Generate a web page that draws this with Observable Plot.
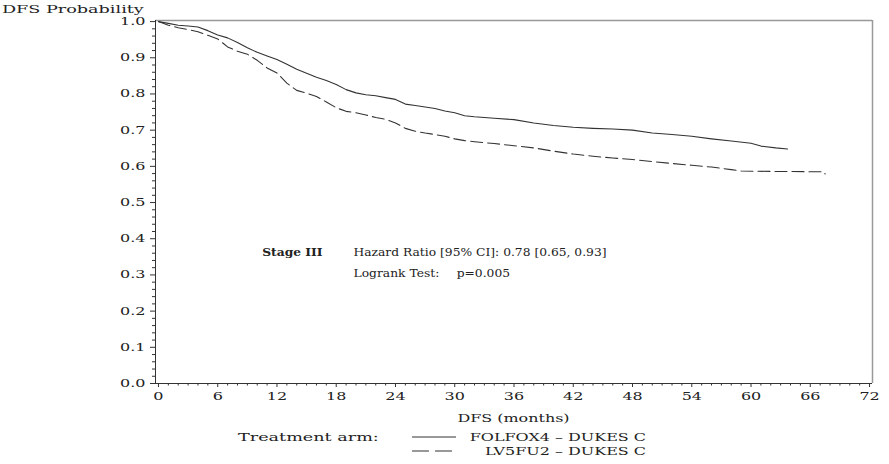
<!DOCTYPE html>
<html>
<head>
<meta charset="utf-8">
<script src="https://cdn.jsdelivr.net/npm/d3@7"></script>
<script src="https://cdn.jsdelivr.net/npm/@observablehq/plot@0.6"></script>
<style>
  html, body { margin: 0; padding: 0; background: #fff; }
  svg text { font-family: "DejaVu Serif", serif; }
</style>
</head>
<body>
<div id="chart"></div>
<script>
// ---- Data ----
const folfoxMonths = [0, 1, 2, 3, 4, 5, 6, 7, 8, 9, 10, 11, 12, 13, 14, 15, 16, 17, 18, 19, 20, 21, 22, 23, 24, 25, 26, 27, 28, 29, 30, 31, 32, 34, 36, 38, 40, 42, 44, 46, 48, 50, 52, 54, 56, 58, 60, 61, 62.5, 63.7];
const folfoxSurv   = [1.000, 0.995, 0.990, 0.988, 0.985, 0.975, 0.963, 0.955, 0.942, 0.928, 0.915, 0.905, 0.895, 0.882, 0.868, 0.857, 0.846, 0.837, 0.826, 0.812, 0.803, 0.798, 0.795, 0.790, 0.785, 0.772, 0.768, 0.764, 0.760, 0.753, 0.748, 0.740, 0.737, 0.733, 0.729, 0.720, 0.713, 0.708, 0.705, 0.703, 0.700, 0.692, 0.688, 0.683, 0.676, 0.670, 0.664, 0.656, 0.651, 0.648];

const lv5fu2Months = [0, 1, 2, 3, 4, 5, 6, 7, 8, 9, 10, 11, 12, 13, 14, 15, 16, 17, 18, 19, 20, 21, 22, 23, 24, 25, 26, 27, 28, 29, 30, 31, 32, 34, 36, 38, 40, 42, 44, 46, 48, 50, 52, 54, 56, 58, 59, 62, 67.4, 67.5];
const lv5fu2Surv   = [1.000, 0.990, 0.983, 0.978, 0.972, 0.962, 0.952, 0.930, 0.918, 0.910, 0.893, 0.872, 0.858, 0.830, 0.810, 0.802, 0.793, 0.778, 0.762, 0.752, 0.748, 0.742, 0.735, 0.730, 0.720, 0.705, 0.697, 0.692, 0.688, 0.683, 0.676, 0.671, 0.668, 0.663, 0.657, 0.651, 0.642, 0.634, 0.628, 0.623, 0.619, 0.613, 0.608, 0.603, 0.598, 0.591, 0.587, 0.586, 0.585, 0.579];

const seriesNames = ["FOLFOX4 \u2013 DUKES C", "LV5FU2 \u2013 DUKES C"];
const yTicks = [0, 0.1, 0.2, 0.3, 0.4, 0.5, 0.6, 0.7, 0.8, 0.9, 1.0];
const xTicks = [0, 6, 12, 18, 24, 30, 36, 42, 48, 54, 60, 66, 72];
const yTitle = "DFS Probability";
const xTitle = "DFS (months)";
const legendTitle = "Treatment arm:";
const boldNotes = [{m: 10.5, s: 0.362, text: "Stage III"}];
const plainNotes = [
  {m: 19.75, s: 0.362, text: "Hazard Ratio [95% CI]: 0.78 [0.65, 0.93]"},
  {m: 19.75, s: 0.304, text: "Logrank Test:"},
  {m: 30.2, s: 0.304, text: "p=0.005"}
];

// ---- Build ----
const folfox = folfoxMonths.map((m, i) => ({m, s: folfoxSurv[i]}));
const lv5fu2 = lv5fu2Months.map((m, i) => ({m, s: lv5fu2Surv[i]}));
const yMinor = d3.range(0, 50).map(i => i * 0.02).filter((v, i) => i % 5 !== 0);
const xMinor = d3.range(0, 73).filter(v => v % 6 !== 0);
const xDomain = [-0.3, 72.3];
const yDomain = [0, 1.003];
const ink = "#222";
const lineInk = "#333";
const serif = "'DejaVu Serif', serif";

const plot = Plot.plot({
  width: 889,
  height: 464,
  marginLeft: 155,
  marginRight: 17,
  marginTop: 20,
  marginBottom: 81,
  style: {fontFamily: serif, fontSize: "11px", color: ink, background: "#fff"},
  x: {domain: xDomain, label: null},
  y: {domain: yDomain, label: null},
  marks: [
    Plot.ruleY([yDomain[1]], {stroke: "#999", strokeWidth: 1.5}),
    Plot.ruleX([xDomain[1]], {stroke: "#999", strokeWidth: 1.5}),
    Plot.ruleX([xDomain[0]], {stroke: lineInk, strokeWidth: 1}),
    Plot.ruleY([0], {stroke: lineInk, strokeWidth: 1}),
    Plot.axisY(yTicks, {anchor: "left", tickSize: 5, tickPadding: 5, tickFormat: d => d.toFixed(1), stroke: lineInk, fill: ink, fontFamily: serif, label: null}),
    Plot.axisY(yMinor, {anchor: "left", tickSize: 3, tickFormat: () => "", stroke: lineInk, label: null}),
    Plot.axisX(xTicks, {anchor: "bottom", tickSize: 4, tickPadding: 5, tickFormat: d => String(d), stroke: lineInk, fill: ink, fontFamily: serif, label: null}),
    Plot.axisX(xMinor, {anchor: "bottom", tickSize: 2.5, tickFormat: () => "", stroke: lineInk, label: null}),
    Plot.line(folfox, {x: "m", y: "s", stroke: lineInk, strokeWidth: 1.1}),
    Plot.line(lv5fu2, {x: "m", y: "s", stroke: lineInk, strokeWidth: 1.1, strokeDasharray: "12,5"}),
    Plot.text(boldNotes, {x: "m", y: "s", text: "text", textAnchor: "start", lineAnchor: "middle",
      fontSize: 10.5, fontWeight: "bold", fill: ink, fontFamily: serif, className: "annot"}),
    Plot.text(plainNotes, {x: "m", y: "s", text: "text", textAnchor: "start", lineAnchor: "middle",
      fontSize: 10.5, fill: ink, fontFamily: serif, className: "annot"})
  ]
});

document.getElementById("chart").appendChild(plot);

// Extra texts: y title, x title and legend, placed relative to the scales
const svg = d3.select(plot);
const sx = plot.scale("x");
const sy = plot.scale("y");
const yBottom = sy.apply(0);

function addText(cls, x, y, anchor, str) {
  return svg.append("text").attr("class", cls)
    .attr("x", x).attr("y", y).attr("text-anchor", anchor)
    .attr("fill", ink).attr("font-size", 11).attr("font-family", serif)
    .text(str);
}

addText("wider", 2, 13, "start", yTitle);
addText("wide", (sx.apply(0) + sx.apply(72)) / 2, yBottom + 39, "middle", xTitle);

const legY1 = yBottom + 54, legY2 = yBottom + 68;
addText("wider", 238, legY1 + 4, "start", legendTitle);
svg.append("line").attr("x1", 412).attr("x2", 456).attr("y1", legY1).attr("y2", legY1)
  .attr("stroke", lineInk).attr("stroke-width", 1.2);
svg.append("line").attr("x1", 412).attr("x2", 456).attr("y1", legY2).attr("y2", legY2)
  .attr("stroke", lineInk).attr("stroke-width", 1.2).attr("stroke-dasharray", "17,6");
addText("wide", 646, legY1 + 4, "end", seriesNames[0]);
addText("wide", 646, legY2 + 4, "end", seriesNames[1]);

// Widen the SAS-like lettering
function widen(sel, k) {
  plot.querySelectorAll(sel).forEach(t => {
    t.setAttribute("font-family", serif);
    const L = t.getComputedTextLength();
    if (L > 0) {
      t.setAttribute("textLength", (L * k).toFixed(1));
      t.setAttribute("lengthAdjust", "spacingAndGlyphs");
    }
  });
}
widen("text.wide, g[aria-label$='tick label'] text", 1.45);
widen("text.wider", 1.6);
widen("g.annot text", 1.17);
</script>
</body>
</html>
